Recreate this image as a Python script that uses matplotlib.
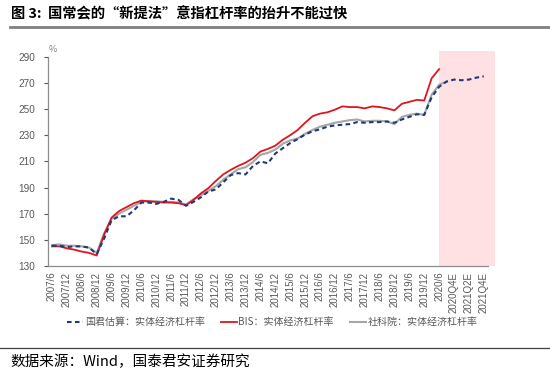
import numpy as np
import matplotlib
matplotlib.use("Agg")
import matplotlib.pyplot as plt
from matplotlib.patches import Rectangle

plt.rcParams['font.family'] = ['Noto Sans CJK SC', 'DejaVu Sans']

# x tick labels, one every two quarters (2007Q2 .. 2021Q4)
tick_labels = [
    '2007/6', '2007/12', '2008/6', '2008/12', '2009/6', '2009/12',
    '2010/6', '2010/12', '2011/6', '2011/12', '2012/6', '2012/12',
    '2013/6', '2013/12', '2014/6', '2014/12', '2015/6', '2015/12',
    '2016/6', '2016/12', '2017/6', '2017/12', '2018/6', '2018/12',
    '2019/6', '2019/12', '2020/6', '2020Q4E', '2021Q2E', '2021Q4E',
]

# quarterly leverage ratios (%)
gtja = [145.5, 145.5, 144.5, 145, 145, 144, 139, 151, 165, 168,
        168, 172.5, 178.5, 178.5, 177.5, 179, 181.5, 180.5, 176, 179,
        182.5, 187, 188.5, 194, 199.5, 201, 200, 206.5, 210, 208.5,
        216, 220, 224, 227, 230.5, 233, 234.5, 236.5, 237.5, 238,
        238.5, 240, 239.5, 240, 240, 240.5, 239.5, 242, 244, 246,
        245.5, 259, 267, 271, 272.5, 272, 272.5, 274, 275]
bis = [145, 145, 143.5, 142.5, 141, 140, 138, 154, 167, 172,
       175, 178, 180, 179.5, 179, 178.5, 178.5, 178, 176.5, 180.5,
       185.5, 189.5, 195, 200, 203.5, 206.5, 209, 212.5, 217.5, 219.5,
       222, 226.5, 230, 234, 239.5, 244.5, 246.5, 247.5, 249.5, 252,
       251.5, 251.5, 250.5, 252, 251.5, 250.5, 249, 254, 255.5, 257,
       256.5, 273.5, 280.5]
cass = [146, 146.5, 145.5, 145.5, 145, 144, 140, 155, 166, 170,
        173, 176, 179, 179.5, 179.5, 179, 179, 178.5, 177, 181,
        184, 187.5, 191, 196, 200, 204, 205.5, 209.5, 215, 216.5,
        219, 223.5, 226, 227.5, 231, 234, 236.5, 238, 239.5, 240.5,
        241.5, 242, 240.5, 241, 241, 240.5, 238.5, 244, 245.5, 246.5,
        245.5, 261, 268.5, 271]

fig = plt.figure(figsize=(5.5, 3.78), dpi=100)
ax = fig.add_axes([0.0873, 0.2963, 0.7997, 0.5537])

# forecast period shading
ax.add_patch(Rectangle((52, 130), 7.5, 164.7, facecolor='#FFE1E4',
                       edgecolor='none', clip_on=False, zorder=0))

ax.plot(np.arange(len(cass)), cass, color='#A6A6A6', lw=1.5, zorder=2,
        label='社科院：实体经济杠杆率')
ax.plot(np.arange(len(bis)), bis, color='#E0141E', lw=1.3, zorder=3,
        label='BIS：实体经济杠杆率')
ax.plot(np.arange(len(gtja)), gtja, color='#1F3A7A', lw=1.5, zorder=4,
        ls=(0, (2.2, 1.6)), label='国君估算：实体经济杠杆率')

ax.set_xlim(-0.54, 58.55)
ax.set_ylim(130, 290)
ax.set_yticks(np.arange(130, 291, 20))
ax.set_xticks(np.arange(0, 59, 2))
ax.set_xticklabels(tick_labels, rotation=90, fontsize=7, color='#595959',
                   family=['Liberation Sans', 'DejaVu Sans'])
for t in ax.get_yticklabels():
    t.set_family(['Liberation Sans', 'DejaVu Sans'])
ax.tick_params(axis='y', labelsize=7.2, colors='#595959', length=3,
               width=0.8, pad=6)
ax.tick_params(axis='x', length=0, pad=4)
for s in ['top', 'right']:
    ax.spines[s].set_visible(False)
for s in ['left', 'bottom']:
    ax.spines[s].set_color('#8C8C8C')
    ax.spines[s].set_linewidth(0.9)

ax.text(52.5 / 550, 1 - 49 / 378, '%', transform=fig.transFigure,
        fontsize=6.5, color='#808080', ha='center', va='center')

h, l = ax.get_legend_handles_labels()
fig.legend(h[::-1], l[::-1], ncol=3, loc='center', frameon=False,
           bbox_to_anchor=(0.495, 1 - 322 / 378), fontsize=7.2,
           labelcolor='#595959', handlelength=1.6, handletextpad=0.15,
           columnspacing=1.6)

# header and footer
fig.text(11 / 550, 1 - 14 / 378, '图 3:  国常会的“新提法”意指杠杆率的抬升不能过快',
         fontsize=10.3, fontweight='bold', ha='left', va='center')
fig.add_artist(plt.Line2D([10 / 550, 1], [1 - 27 / 378] * 2,
                          color='#808080', lw=2))
fig.add_artist(plt.Line2D([0, 1], [1 - 347.5 / 378] * 2,
                          color='#404040', lw=0.9))
fig.text(10 / 550, 1 - 362 / 378, '数据来源：Wind，国泰君安证券研究',
         fontsize=10.5, ha='left', va='center')

fig.savefig('out.png', dpi=100)
